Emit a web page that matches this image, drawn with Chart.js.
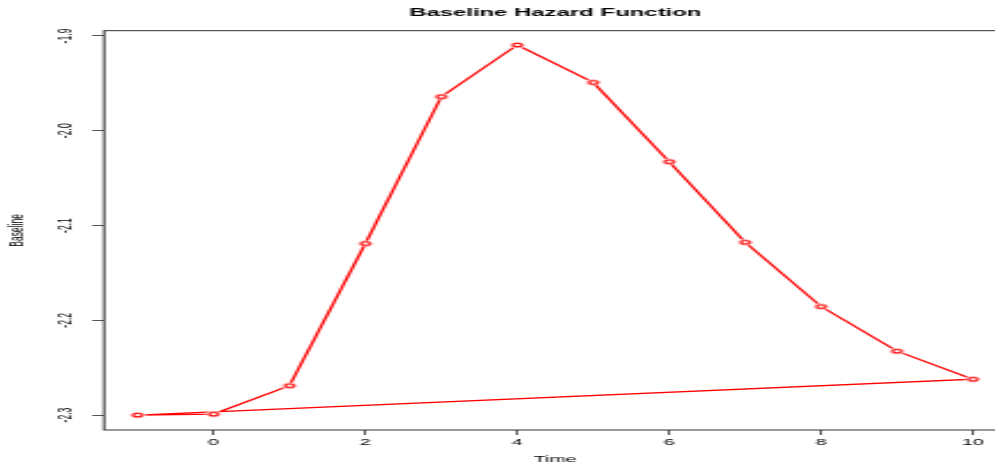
<!DOCTYPE html>
<html>
<head>
<meta charset="utf-8">
<script src="https://cdn.jsdelivr.net/npm/chart.js@4/dist/chart.umd.min.js"></script>
<style>
  html, body { margin: 0; padding: 0; background: #fff; overflow: hidden; }
  #hazard { display: block; }
</style>
</head>
<body>
<!-- the reference is a narrow R plot stretched sideways, so draw narrow and stretch the canvas -->
<canvas id="hazard" width="440" height="468" style="width:1013.4px;height:468px"></canvas>
<script>
// values (the path closes back to time -1)
const times = [-1, 0, 1, 2, 3, 4, 5, 6, 7, 8, 9, 10, -1];
const baseline = [-2.300, -2.299, -2.269, -2.119, -1.964, -1.9095, -1.949, -2.0326, -2.1177, -2.1855, -2.2326, -2.2622, -2.300];

const xTickStep = 2;
const yTickStep = 0.1;

const FONT = '"Liberation Sans", Arial, Helvetica, sans-serif';

// open circle with a white halo so the line stops short of each point (like type = "b")
function makeMarker() {
  const c = document.createElement('canvas');
  c.width = 10;
  c.height = 10;
  const g = c.getContext('2d');
  g.fillStyle = '#ffffff';
  g.beginPath();
  g.arc(5, 5, 3.3, 0, Math.PI * 2);
  g.fill();
  g.strokeStyle = '#ff0000';
  g.lineWidth = 1.3;
  g.beginPath();
  g.arc(5, 5, 1.9, 0, Math.PI * 2);
  g.stroke();
  return c;
}

// box round the plot region
const plotBox = {
  id: 'plotBox',
  beforeDatasetsDraw(chart) {
    const { ctx, chartArea: a } = chart;
    ctx.save();
    ctx.strokeStyle = '#333';
    ctx.lineWidth = 1;
    ctx.strokeRect(a.left, a.top, a.right - a.left, a.bottom - a.top);
    ctx.restore();
  }
};

const points = times.map((t, i) => ({ x: t, y: baseline[i] }));

new Chart(document.getElementById('hazard'), {
  type: 'line',
  data: {
    datasets: [{
      label: 'Baseline',
      data: points,
      borderColor: '#ff0000',
      borderWidth: 1.3,
      tension: 0,
      fill: false,
      pointStyle: makeMarker(),
      pointRadius: 3
    }]
  },
  options: {
    responsive: false,
    animation: false,
    devicePixelRatio: 1,
    layout: { autoPadding: false, padding: { left: 0, right: 2.9, top: 0, bottom: 0 } },
    plugins: {
      legend: { display: false },
      tooltip: { enabled: false },
      title: {
        display: true,
        text: 'Baseline Hazard Function',
        fullSize: false,
        color: '#000',
        font: { family: FONT, size: 10.4, weight: 'bold' },
        padding: { top: 6.8, bottom: 11.4 }
      }
    },
    scales: {
      x: {
        type: 'linear',
        min: -1.44,
        max: 10.44,
        border: { display: false },
        grid: { display: true, drawOnChartArea: false, tickLength: 5, tickColor: '#555' },
        ticks: {
          stepSize: xTickStep,
          includeBounds: false,
          padding: 2.84,
          color: '#000',
          font: { family: FONT, size: 8.6 },
          maxRotation: 0
        },
        title: {
          display: true,
          text: 'Time',
          color: '#000',
          font: { family: FONT, size: 8.5 },
          padding: { top: 3.9, bottom: 2.9 }
        },
        // the plot region runs past the right edge, so no room is kept for the last label
        afterFit(scale) {
          scale.paddingLeft = 0;
          scale.paddingRight = 0;
        }
      },
      y: {
        min: -2.3158,
        max: -1.8944,
        border: { display: false },
        grid: { display: true, drawOnChartArea: false, tickLength: 5.2, tickColor: '#555' },
        ticks: {
          stepSize: yTickStep,
          includeBounds: false,
          padding: 3.5,
          minRotation: 90,
          maxRotation: 90,
          crossAlign: 'center',
          color: '#000',
          font: { family: FONT, size: 8.6 },
          callback: v => v.toFixed(1)
        },
        title: {
          display: true,
          text: 'Baseline',
          color: '#000',
          font: { family: FONT, size: 8.5 },
          padding: { top: 2.5, bottom: 10 }
        }
      }
    }
  },
  plugins: [plotBox]
});
</script>
</body>
</html>
